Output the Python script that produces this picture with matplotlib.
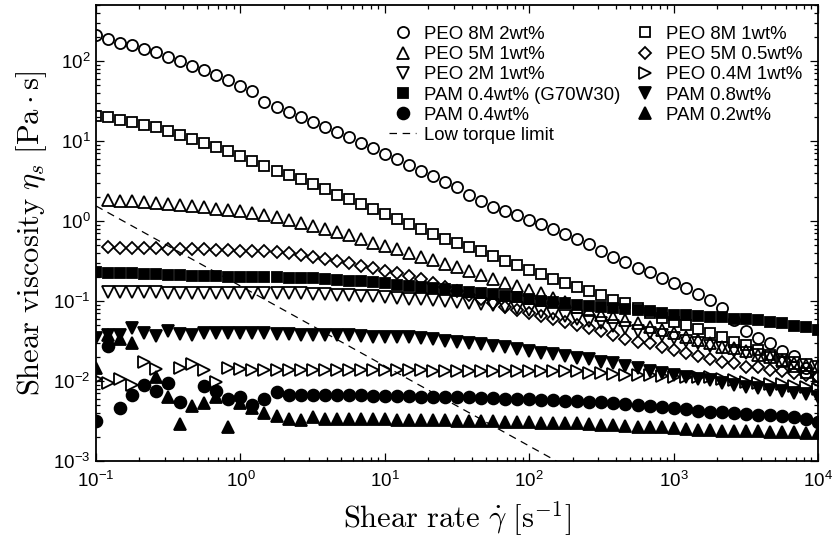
import numpy as np
import matplotlib
matplotlib.use("Agg")
import matplotlib.pyplot as plt
from matplotlib.font_manager import FontProperties

plt.rcParams['font.family'] = ['Liberation Sans', 'DejaVu Sans']

# Shear-rate grid of the rheometer (log-spaced sweep, 0.1 .. 1e4 1/s)
shear_rate = np.logspace(-1, 4, 61)
nan = np.nan

# log10 of shear viscosity [Pa s]
peo8m_2 = [2.325, 2.27, 2.23, 2.20, 2.15, 2.11, 2.05, 2.00, 1.94, 1.89, 1.82, 1.76, 1.69, 1.62, 1.49, 1.42, 1.36,
           1.30, 1.24, 1.175, 1.11, 1.045, 0.98, 0.91, 0.84, 0.77, 0.70, 0.63, 0.56, 0.49, 0.42, 0.33, 0.25,
           0.18, 0.12, 0.07, 0.01, -0.04, -0.10, -0.16, -0.22, -0.29, -0.37, -0.45, -0.51, -0.59, -0.64,
           -0.71, -0.78, -0.84, -0.91, -0.99, -1.09, -1.24, -1.37, -1.46, -1.53, -1.62, -1.69, -1.84, -1.94]
peo8m_1 = [1.31, 1.30, 1.26, 1.24, 1.20, 1.17, 1.125, 1.08, 1.03, 0.98, 0.93, 0.875, 0.81, 0.75, 0.69, 0.63, 0.58,
           0.52, 0.46, 0.40, 0.33, 0.27, 0.21, 0.15, 0.09, 0.025, -0.04, -0.10, -0.16, -0.22, -0.27, -0.33, -0.38,
           -0.44, -0.50, -0.55, -0.61, -0.665, -0.72, -0.775, -0.83, -0.88, -0.93, -0.99, -1.03, -1.09, -1.15,
           -1.21, -1.26, -1.30, -1.35, -1.40, -1.45, -1.51, -1.55, -1.61, -1.67, -1.76, -1.82, -1.90, -1.95]
peo5m_1 = [nan, 0.26, 0.254, 0.245, 0.235, 0.222, 0.21, 0.197, 0.185, 0.17, 0.155, 0.14, 0.12, 0.10, 0.075, 0.045, 0.01,
           -0.029, -0.0625, -0.104, -0.141, -0.175, -0.225, -0.27, -0.31, -0.35, -0.396, -0.446, -0.4875, -0.5375,
           -0.57, -0.62, -0.675, -0.725, -0.77, -0.8125, -0.8625, -0.904, -0.966, -1.008, -1.07, -1.1125, -1.175,
           -1.20, -1.24, -1.28, -1.32, -1.36, -1.40, -1.45, -1.49, -1.53, -1.57, -1.59, -1.63, -1.675, -1.70,
           -1.74, -1.77, -1.80, -1.81]
peo5m_05 = [nan, -0.33, -0.333, -0.337, -0.34, -0.34, -0.345, -0.35, -0.35, -0.355, -0.36, -0.365, -0.37, -0.375,
            -0.38, -0.39, -0.40, -0.425, -0.45, -0.475, -0.50, -0.53, -0.56, -0.59, -0.62, -0.655, -0.69, -0.73,
            -0.77, -0.82, -0.87, -0.92, -0.975, -1.03, -1.07, -1.11, -1.15, -1.19, -1.22, -1.26, -1.30, -1.34,
            -1.38, -1.425, -1.47, -1.51, -1.53, -1.57, -1.61, -1.65, -1.69, -1.72, -1.76, -1.78, -1.82, -1.83,
            -1.86, -1.88, -1.90, -1.92, -1.95]
peo2m_1 = [nan, -0.89, -0.89, -0.892, -0.893, -0.894, -0.895, -0.896, -0.897, -0.898, -0.899, -0.90, -0.90, -0.90,
           -0.902, -0.903, -0.905, -0.905, -0.91, -0.915, -0.92, -0.93, -0.935, -0.94, -0.95, -0.96, -0.97, -0.98,
           -0.99, -1.00, -1.01, -1.02, -1.035, -1.05, -1.07, -1.09, -1.11, -1.14, -1.165, -1.19, -1.22, -1.25,
           -1.28, -1.31, -1.34, -1.37, -1.40, -1.43, -1.46, -1.50, -1.53, -1.56, -1.59, -1.62, -1.65, -1.68,
           -1.71, -1.74, -1.77, -1.80, -1.83]
peo04m_1 = [-1.98, -2.03, -1.97, -2.05, -1.76, -1.85, nan, -1.84, -1.79, -1.86, -2.01, -1.84, -1.85, -1.86, -1.86,
            -1.86, -1.86, -1.86, -1.86, -1.86, -1.86, -1.86, -1.86, -1.86, -1.86, -1.86, -1.86, -1.86, -1.87,
            -1.87, -1.87, -1.875, -1.875, -1.875, -1.88, -1.88, -1.88, -1.88, -1.88, -1.88, -1.88, -1.90, -1.90,
            -1.91, -1.925, -1.925, -1.93, -1.94, -1.95, -1.95, -1.95, -1.95, -1.97, -1.99, -2.01, -2.03, -2.04,
            -2.04, -2.06, -2.08, -2.10]
pam04_g70 = [-0.633, -0.646, -0.646, -0.654, -0.662, -0.667, -0.675, -0.675, -0.683, -0.683, -0.688, -0.696,
             -0.696, -0.70, -0.704, -0.704, -0.708, -0.712, -0.717, -0.725, -0.7375, -0.746, -0.75, -0.758,
             -0.78, -0.795, -0.8125, -0.829, -0.84, -0.854, -0.8625, -0.883, -0.896, -0.917, -0.9375, -0.954,
             -0.975, -0.996, -1.008, -1.03, -1.05, -1.0625, -1.08, -1.09, -1.10, -1.11, -1.13, -1.15, -1.17,
             -1.175, -1.19, -1.20, -1.20, -1.22, -1.225, -1.24, -1.26, -1.27, -1.31, -1.33, -1.36]
pam08 = [-1.46, -1.42, -1.43, -1.34, -1.40, -1.44, -1.38, -1.41, -1.42, -1.40, -1.40, -1.40, -1.40, -1.40, -1.40,
         -1.41, -1.415, -1.425, -1.425, -1.425, -1.43, -1.43, -1.4375, -1.446, -1.446, -1.446, -1.454, -1.467,
         -1.479, -1.496, -1.508, -1.52, -1.5375, -1.558, -1.579, -1.60, -1.62, -1.646, -1.667, -1.6875, -1.708,
         -1.73, -1.758, -1.78, -1.81, -1.84, -1.88, -1.90, -1.925, -1.946, -1.97, -1.99, -2.02, -2.05, -2.07,
         -2.09, -2.11, -2.13, -2.15, -2.16, -2.20]
pam04 = [-2.50, -1.56, -2.34, -2.18, -2.05, -2.13, -2.02, -2.26, nan, -2.065, -2.12, -2.23, -2.195, -2.295, -2.225,
         -2.14, -2.17, -2.175, -2.175, -2.175, -2.175, -2.18, -2.18, -2.185, -2.185, -2.19, -2.19, -2.195, -2.195,
         -2.20, -2.20, -2.205, -2.21, -2.215, -2.22, -2.225, -2.23, -2.235, -2.24, -2.245, -2.25, -2.26, -2.265,
         -2.275, -2.285, -2.30, -2.31, -2.32, -2.335, -2.35, -2.37, -2.385, -2.39, -2.40, -2.41, -2.42, -2.43,
         -2.44, -2.455, -2.47, -2.51]
pam02 = [-1.84, -1.43, -1.48, -1.52, nan, -1.95, -2.20, -2.535, -2.315, -2.27, -2.20, -2.57, -2.275, -2.335, -2.395,
         -2.44, -2.475, -2.49, -2.45, -2.47, -2.47, -2.47, -2.475, -2.48, -2.48, -2.485, -2.485, -2.49, -2.49,
         -2.49, -2.495, -2.50, -2.50, -2.505, -2.51, -2.51, -2.515, -2.52, -2.52, -2.525, -2.53, -2.54, -2.55,
         -2.555, -2.56, -2.57, -2.575, -2.58, -2.59, -2.60, -2.61, -2.615, -2.62, -2.625, -2.63, -2.63, -2.635,
         -2.64, -2.64, -2.645, -2.65]

# Low torque limit: minimum measurable stress [Pa] -> eta = stress / shear rate
torque_stress = 0.154
torque_rate = [0.1, 1e4]

labels = ['PEO 8M 2wt%', 'PEO 8M 1wt%', 'PEO 5M 1wt%', 'PEO 5M 0.5wt%', 'PEO 2M 1wt%', 'PEO 0.4M 1wt%',
          'PAM 0.4wt% (G70W30)', 'PAM 0.8wt%', 'PAM 0.4wt%', 'PAM 0.2wt%', 'Low torque limit']
series = [peo8m_2, peo8m_1, peo5m_1, peo5m_05, peo2m_1, peo04m_1, pam04_g70, pam08, pam04, pam02]
markers = ['o', 's', '^', 'D', 'v', '>', 's', 'v', 'o', '^']
filled = [False, False, False, False, False, False, True, True, True, True]
msizes = [8.0, 7.0, 8.6, 6.2, 8.6, 8.6, 7.8, 8.6, 8.5, 8.6]

fig = plt.figure(figsize=(8.36, 5.44), dpi=100, facecolor='white')
W, H = 836, 544
ax = fig.add_axes([96 / W, 1 - 461 / H, (818 - 96) / W, (461 - 5) / H])

handles = []
for vals, mk, fl, ms, lab in zip(series, markers, filled, msizes, labels):
    y = 10 ** np.array(vals, dtype=float)
    h, = ax.plot(shear_rate, y, linestyle='none', marker=mk, markersize=ms,
                 markeredgewidth=1.3, markeredgecolor='black',
                 markerfacecolor='black' if fl else 'none', label=lab)
    handles.append(h)

tr = np.array(torque_rate)
hl, = ax.plot(tr, torque_stress / tr, color='black', linestyle=(0, (6, 4.5)), linewidth=0.9,
              label=labels[-1])
handles.append(hl)

ax.set_xscale('log')
ax.set_yscale('log')
ax.set_xlim(0.1, 1e4)
ax.set_ylim(1e-3, 500)
ax.set_xticks([1e-1, 1e0, 1e1, 1e2, 1e3, 1e4])
ax.set_yticks([1e-3, 1e-2, 1e-1, 1e0, 1e1, 1e2])
ax.tick_params(which='both', direction='in', top=True, right=True, labelsize=13.5, width=0.9)
ax.tick_params(axis='x', which='major', pad=7)
ax.tick_params(axis='y', which='major', pad=4)
ax.tick_params(which='major', length=5.5)
ax.tick_params(which='minor', length=3)
for s in ax.spines.values():
    s.set_linewidth(1.3)

cm = FontProperties(family='DejaVu Serif', size=22, math_fontfamily='cm')
ax.set_xlabel(r'$\mathrm{Shear\ rate}\ \dot{\gamma}\ [\mathrm{s}^{-1}]$', fontproperties=cm, labelpad=6)
ax.set_ylabel(r'$\mathrm{Shear\ viscosity}\ \eta_s\ [\mathrm{Pa}\cdot\mathrm{s}]$', fontproperties=cm, labelpad=3)

order = [0, 2, 4, 6, 8, 10, 1, 3, 5, 7, 9]
leg = ax.legend([handles[i] for i in order], [labels[i] for i in order], ncol=2,
                loc='upper right', bbox_to_anchor=(0.978, 0.954), frameon=False,
                fontsize=13.4, handlelength=1.45, handletextpad=0.4, columnspacing=0.6,
                labelspacing=0.17, borderpad=0, borderaxespad=0, numpoints=1)

fig.savefig('out.png', dpi=100, facecolor='white')
